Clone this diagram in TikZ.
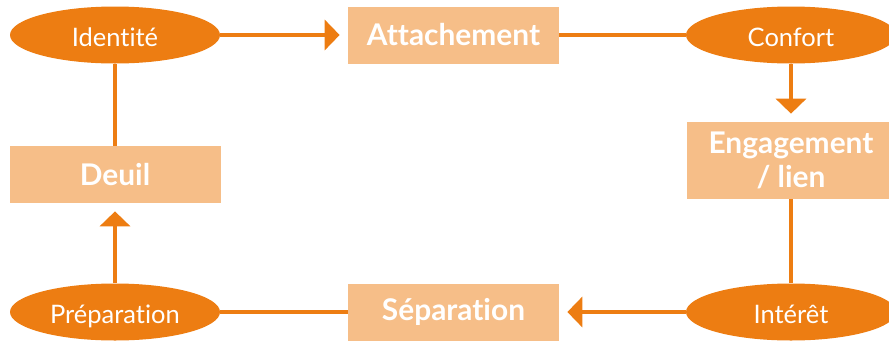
\documentclass[tikz,border=0pt]{standalone}
\usepackage{fontspec}
\setmainfont{Lato}[Ligatures=NoCommon]
\usetikzlibrary{shapes.geometric, arrows.meta}
\definecolor{darkorange}{RGB}{237,125,18}
\definecolor{lightorange}{RGB}{246,190,136}

\begin{document}
\begin{tikzpicture}[
  stage/.style={ellipse, fill=darkorange, text=white, inner sep=0pt,
    text height=0.44cm, text depth=0cm,
    minimum width=4.2cm, minimum height=1.14cm, font=\fontsize{14.5}{17}\selectfont},
  phase/.style={rectangle, fill=lightorange, text=white, inner sep=0pt, align=center,
    minimum width=4.22cm, minimum height=1.14cm, font=\fontsize{17}{19.5}\selectfont\bfseries},
  link/.style={draw=darkorange, line width=0.08cm},
  arrowlink/.style={link, -{Triangle[width=0.6cm, length=0.3cm]}, shorten >=0.16cm}
]
\useasboundingbox (0,0) rectangle (17.78,6.8);

% ellipses
\node[stage] (identite) at (2.3,6.1) {Identité};
\node[stage] (confort) at (15.82,6.1) {Confort};
\node[stage] (interet) at (15.82,0.56) {Intérêt};
\node[stage] (preparation) at (2.3,0.56) {Préparation};

% boxes
\node[phase] (attachement) at (9.07,6.1) {Attachement};
\node[phase, minimum width=4.16cm, minimum height=1.54cm] (engagement) at (15.82,3.59) {Engagement\\/ lien};
\node[phase] (separation) at (9.07,0.56) {Séparation};
\node[phase] (deuil) at (2.3,3.31) {Deuil};

% the cycle
\draw[arrowlink] (identite) -- (attachement);
\draw[link] (attachement) -- (confort);
\draw[arrowlink] (confort) -- (engagement);
\draw[link] (engagement) -- (interet);
\draw[arrowlink] (interet) -- (separation);
\draw[link] (separation) -- (preparation);
\draw[arrowlink] (preparation) -- (deuil);
\draw[link] (deuil) -- (identite);
\end{tikzpicture}
\end{document}
